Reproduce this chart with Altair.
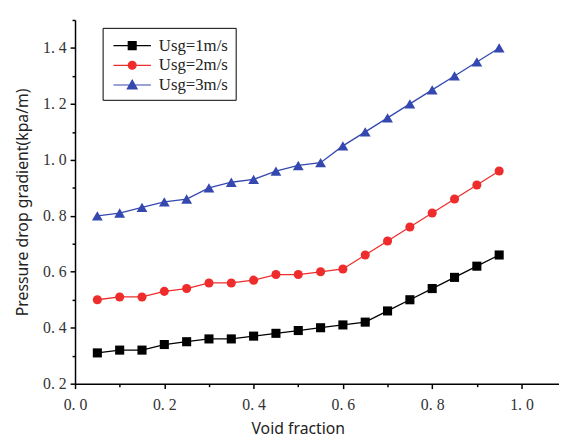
import altair as alt
import pandas as pd

void_fraction = [0.05, 0.10, 0.15, 0.20, 0.25, 0.30, 0.35, 0.40, 0.45, 0.50,
                 0.55, 0.60, 0.65, 0.70, 0.75, 0.80, 0.85, 0.90, 0.95]
usg1 = [0.31, 0.32, 0.32, 0.34, 0.35, 0.36, 0.36, 0.37, 0.38, 0.39,
        0.40, 0.41, 0.42, 0.46, 0.50, 0.54, 0.58, 0.62, 0.66]
usg2 = [0.50, 0.51, 0.51, 0.53, 0.54, 0.56, 0.56, 0.57, 0.59, 0.59,
        0.60, 0.61, 0.66, 0.71, 0.76, 0.81, 0.86, 0.91, 0.96]
usg3 = [0.80, 0.81, 0.83, 0.85, 0.86, 0.90, 0.92, 0.93, 0.96, 0.98,
        0.99, 1.05, 1.10, 1.15, 1.20, 1.25, 1.30, 1.35, 1.40]
series_names = ["Usg=1m/s", "Usg=2m/s", "Usg=3m/s"]
colors = ["#000000", "#ee2c2c", "#3448b0"]
marker_shapes = ["square", "circle", "triangle-up"]
marker_sizes = [85, 85, 120]
x_ticks = [0.0, 0.1, 0.2, 0.3, 0.4, 0.5, 0.6, 0.7, 0.8, 0.9, 1.0]
y_ticks = [0.2, 0.3, 0.4, 0.5, 0.6, 0.7, 0.8, 0.9, 1.0, 1.1, 1.2, 1.3, 1.4, 1.5]

legend_paths = [
    "M-0.7,0H3.1M0.8,-0.4H1.6V0.4H0.8Z",
    "M-0.7,0H3.1M1.6,0A0.4,0.4,0,1,1,0.8,0A0.4,0.4,0,1,1,1.6,0Z",
    "M-0.7,0H3.1M1.2,-0.5L1.7,0.4H0.7Z",
]

rows = []
for name, vals in zip(series_names, [usg1, usg2, usg3]):
    for xv, yv in zip(void_fraction, vals):
        rows.append({"x": xv, "y": yv, "series": name})
df = pd.DataFrame(rows)

tick_font = "Liberation Serif"
title_font = "Noto Sans"
label_expr = "round(datum.value*10) % 2 == 0 ? replace(format(datum.value, '.1f'), '.', '. ') : ''"
tick_size = {"condition": {"test": "round(datum.value*10) % 2 == 1", "value": 3}, "value": 5}

x_axis = alt.Axis(values=x_ticks, labelExpr=label_expr, tickSize=tick_size,
                  labelOverlap=False, labelFlush=False, grid=False,
                  domainColor="black", domainWidth=1.5, tickColor="black", tickWidth=1.5,
                  labelFont=tick_font, labelFontSize=16, labelColor="#333333",
                  labelPadding=8, title="Void fraction", titleFont=title_font,
                  titleFontSize=16, titleFontWeight="normal", titleColor="#222222",
                  titleX=226, titleY=51, titleBaseline="alphabetic", titleAlign="center")
y_axis = alt.Axis(values=y_ticks, labelExpr=label_expr, tickSize=tick_size,
                  labelOverlap=False, labelFlush=False, grid=False,
                  domainColor="black", domainWidth=1.5, tickColor="black", tickWidth=1.5,
                  labelFont=tick_font, labelFontSize=16, labelColor="#333333",
                  labelPadding=4, title="Pressure drop gradient(kpa/m)",
                  titleFont=title_font, titleFontSize=16, titleFontWeight="normal",
                  titleColor="#222222", titlePadding=12)

x_enc = alt.X("x:Q", scale=alt.Scale(domain=[0, 1.084], nice=False, zero=False), axis=x_axis)
y_enc = alt.Y("y:Q", scale=alt.Scale(domain=[0.2, 1.5], nice=False, zero=False), axis=y_axis)

layers = []
for name, col, shp, sz in zip(series_names, colors, marker_shapes, marker_sizes):
    base = alt.Chart(df).transform_filter(alt.datum.series == name)
    layers.append(base.mark_line(strokeWidth=1.3, color=col).encode(x=x_enc, y=y_enc))
    layers.append(base.mark_point(shape=shp, filled=True, size=sz, opacity=1, color=col)
                  .encode(x=x_enc, y=y_enc))

legend_cfg = dict(orient="none", legendX=28, legendY=8, title=None,
                  strokeColor="black", fillColor="white", padding=7,
                  labelFont=tick_font, labelFontSize=17, labelColor="#222222",
                  symbolSize=400, symbolStrokeWidth=1.2, symbolOpacity=1,
                  labelOffset=28, rowPadding=1)

legend_layer = alt.Chart(df).transform_filter("datum.x > 5").mark_point(
    filled=True, opacity=1
).encode(
    x=x_enc, y=y_enc,
    color=alt.Color("series:N", scale=alt.Scale(domain=series_names, range=colors),
                    legend=alt.Legend(**legend_cfg)),
    stroke=alt.Stroke("series:N", scale=alt.Scale(domain=series_names, range=colors),
                      legend=alt.Legend(**legend_cfg)),
    shape=alt.Shape("series:N", scale=alt.Scale(domain=series_names, range=legend_paths),
                    legend=alt.Legend(**legend_cfg)),
)
layers.append(legend_layer)

chart = alt.layer(*layers).properties(
    width=491, height=369, autosize="none",
    padding={"left": 68, "top": 9, "right": 0, "bottom": 55},
    background="white",
).configure_view(stroke=None)

chart.save("out.html", embed_options={"renderer": "svg", "actions": False})
